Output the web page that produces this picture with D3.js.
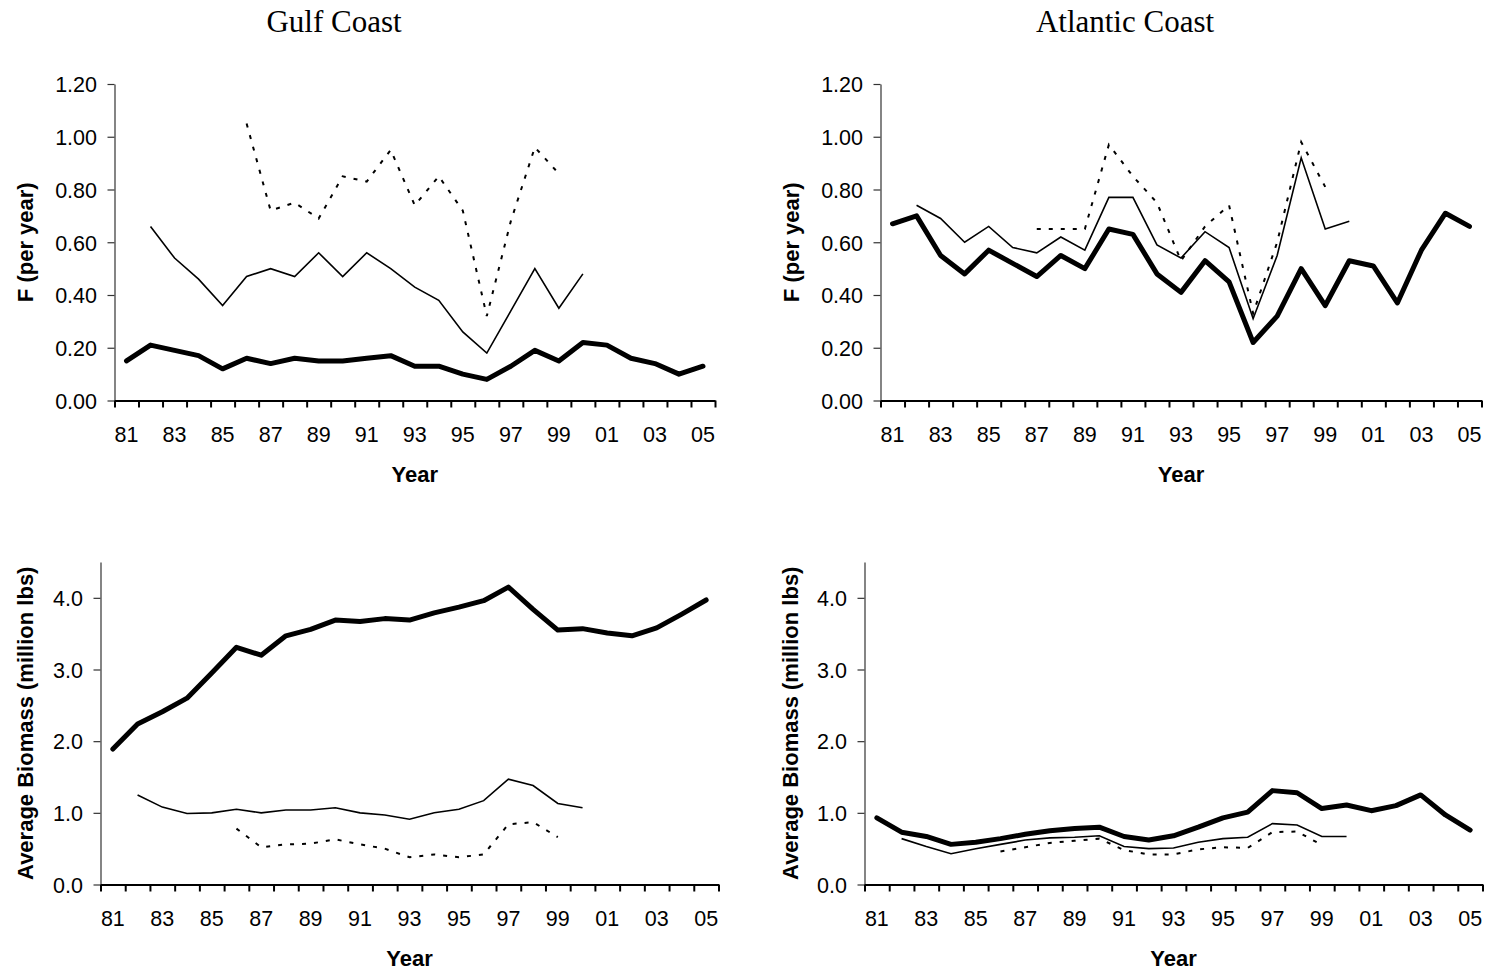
<!DOCTYPE html>
<html>
<head>
<meta charset="utf-8">
<script src="https://cdn.jsdelivr.net/npm/d3@7"></script>
<style>
  html, body { margin: 0; padding: 0; background: #fff; }
  svg { display: block; }
</style>
</head>
<body>
<svg id="chart" width="1491" height="970"></svg>
<script>
// ---------- DATA ----------
const years = ["81","82","83","84","85","86","87","88","89","90","91","92","93","94","95","96","97","98","99","00","01","02","03","04","05"];
const labelYears = ["81","83","85","87","89","91","93","95","97","99","01","03","05"];

const fTicks = [0, 0.2, 0.4, 0.6, 0.8, 1.0, 1.2];
const bTicks = [0, 1, 2, 3, 4];

const gulfF_thick = [0.15,0.21,0.19,0.17,0.12,0.16,0.14,0.16,0.15,0.15,0.16,0.17,0.13,0.13,0.10,0.08,0.13,0.19,0.15,0.22,0.21,0.16,0.14,0.10,0.13];
const gulfF_thin  = [null,0.66,0.54,0.46,0.36,0.47,0.50,0.47,0.56,0.47,0.56,0.50,0.43,0.38,0.26,0.18,0.34,0.50,0.35,0.48,null,null,null,null,null];
const gulfF_dot   = [null,null,null,null,null,1.05,0.72,0.75,0.69,0.85,0.83,0.95,0.74,0.85,0.72,0.32,0.68,0.96,0.86,null,null,null,null,null,null];

const atlF_thick = [0.67,0.70,0.55,0.48,0.57,0.52,0.47,0.55,0.50,0.65,0.63,0.48,0.41,0.53,0.45,0.22,0.32,0.50,0.36,0.53,0.51,0.37,0.57,0.71,0.66];
const atlF_thin  = [null,0.74,0.69,0.60,0.66,0.58,0.56,0.62,0.57,0.77,0.77,0.59,0.54,0.64,0.58,0.31,0.55,0.92,0.65,0.68,null,null,null,null,null];
const atlF_dot   = [null,null,null,null,null,null,0.65,0.65,0.65,0.97,0.85,0.75,0.53,0.66,0.74,0.33,0.60,0.98,0.81,null,null,null,null,null,null];

const gulfB_thick = [1.89,2.24,2.41,2.60,2.95,3.31,3.20,3.47,3.56,3.69,3.67,3.71,3.69,3.79,3.87,3.96,4.15,3.84,3.55,3.57,3.51,3.47,3.58,3.77,3.97];
const gulfB_thin  = [null,1.25,1.08,0.99,1.00,1.05,1.00,1.04,1.04,1.07,1.00,0.97,0.91,1.00,1.05,1.17,1.47,1.38,1.13,1.07,null,null,null,null,null];
const gulfB_dot   = [null,null,null,null,null,0.78,0.52,0.56,0.57,0.63,0.56,0.50,0.38,0.42,0.38,0.42,0.84,0.87,0.66,null,null,null,null,null,null];

const atlB_thick = [0.93,0.73,0.67,0.56,0.59,0.64,0.70,0.75,0.78,0.80,0.67,0.62,0.68,0.80,0.93,1.01,1.31,1.28,1.06,1.11,1.03,1.10,1.25,0.97,0.76];
const atlB_thin  = [null,0.64,0.53,0.43,0.50,0.56,0.62,0.65,0.66,0.68,0.53,0.50,0.51,0.59,0.64,0.66,0.85,0.83,0.67,0.67,null,null,null,null,null];
const atlB_dot   = [null,null,null,null,null,0.46,0.52,0.58,0.61,0.64,0.48,0.42,0.42,0.49,0.52,0.51,0.73,0.74,0.55,null,null,null,null,null,null];

const titles = ["Gulf Coast", "Atlantic Coast"];
const yLabelF = "F (per year)";
const yLabelB = "Average Biomass (million lbs)";
const xLabel = "Year";

// ---------- LAYOUT ----------
const svg = d3.select("#chart");
const SANS = "'Liberation Sans', Arial, sans-serif";
const SERIF = "'Liberation Serif', 'Times New Roman', serif";

const panels = [
  { l: 114.5, r: 715, t: 84, b: 400.5, yMax: 1.2, ticks: fTicks, fmt: d3.format(".2f"), ylab: yLabelF, ylabX: 33,
    series: [gulfF_thick, gulfF_thin, gulfF_dot] },
  { l: 880.5, r: 1481.5, t: 84, b: 400.5, yMax: 1.2, ticks: fTicks, fmt: d3.format(".2f"), ylab: yLabelF, ylabX: 799,
    series: [atlF_thick, atlF_thin, atlF_dot] },
  { l: 100.5, r: 718.5, t: 562, b: 884.5, yMax: 4.5, ticks: bTicks, fmt: d3.format(".1f"), ylab: yLabelB, ylabX: 33,
    series: [gulfB_thick, gulfB_thin, gulfB_dot] },
  { l: 864.5, r: 1482.5, t: 562, b: 884.5, yMax: 4.5, ticks: bTicks, fmt: d3.format(".1f"), ylab: yLabelB, ylabX: 798,
    series: [atlB_thick, atlB_thin, atlB_dot] }
];

const styles = [
  { w: 5, dash: null, cap: "round", join: "round" },
  { w: 1.6, dash: null, cap: "butt", join: "miter" },
  { w: 2, dash: "4,8", cap: "butt", join: "miter" }
];

// titles
svg.append("text").attr("x", 334).attr("y", 32).attr("text-anchor", "middle")
  .style("font-family", SERIF).style("font-size", "31px").attr("fill", "#000").text(titles[0]);
svg.append("text").attr("x", 1125).attr("y", 32).attr("text-anchor", "middle")
  .style("font-family", SERIF).style("font-size", "31px").attr("fill", "#000").text(titles[1]);

panels.forEach(p => {
  const g = svg.append("g");
  const x = d3.scaleBand().domain(years).range([p.l, p.r]).padding(0);
  const xb = d3.scaleLinear().domain([0, years.length]).range([p.l, p.r]);
  const y = d3.scaleLinear().domain([0, p.yMax]).range([p.b, p.t]);

  // Y axis
  const ya = g.append("g").attr("transform", `translate(${p.l},0)`)
    .call(d3.axisLeft(y).tickValues(p.ticks).tickFormat(p.fmt).tickSize(7).tickSizeOuter(0).tickPadding(10.5));
  ya.select(".domain").attr("stroke", "#333").attr("stroke-width", 1.2);
  ya.selectAll(".tick line").attr("stroke", "#333").attr("stroke-width", 1.2);
  ya.selectAll(".tick text").style("font-family", SANS).style("font-size", "21.5px").attr("fill", "#000").attr("dy", "0.36em");

  // X axis boundary ticks
  const xa = g.append("g").attr("transform", `translate(0,${p.b})`)
    .call(d3.axisBottom(xb).tickValues(d3.range(years.length + 1)).tickFormat("").tickSize(7).tickSizeOuter(0));
  xa.select(".domain").attr("stroke", "#000").attr("stroke-width", 2);
  xa.selectAll(".tick line").attr("stroke", "#000").attr("stroke-width", 2);

  // X labels
  const xl = g.append("g").attr("transform", `translate(0,${p.b})`)
    .call(d3.axisBottom(x).tickValues(labelYears).tickSize(0).tickPadding(0));
  xl.select(".domain").remove();
  xl.selectAll(".tick text").attr("y", 41).attr("dy", 0)
    .style("font-family", SANS).style("font-size", "21.5px").attr("fill", "#000");

  // axis titles
  g.append("text").attr("x", (p.l + p.r) / 2).attr("y", p.b + 81.5).attr("text-anchor", "middle")
    .style("font-family", SANS).style("font-size", "22px").style("font-weight", "bold").text(xLabel);
  g.append("text").attr("transform", `translate(${p.ylabX},${(p.t + p.b) / 2}) rotate(-90)`)
    .attr("text-anchor", "middle")
    .style("font-family", SANS).style("font-size", "22px").style("font-weight", "bold").text(p.ylab);

  // series
  p.series.forEach((s, i) => {
    const st = styles[i];
    const line = d3.line()
      .defined(d => d != null)
      .x((d, k) => x(years[k]) + x.bandwidth() / 2)
      .y(d => y(d));
    g.append("path").datum(s).attr("d", line)
      .attr("fill", "none").attr("stroke", "#000")
      .attr("stroke-width", st.w)
      .attr("stroke-linecap", st.cap).attr("stroke-linejoin", st.join)
      .attr("stroke-dasharray", st.dash);
  });
});
</script>
</body>
</html>
